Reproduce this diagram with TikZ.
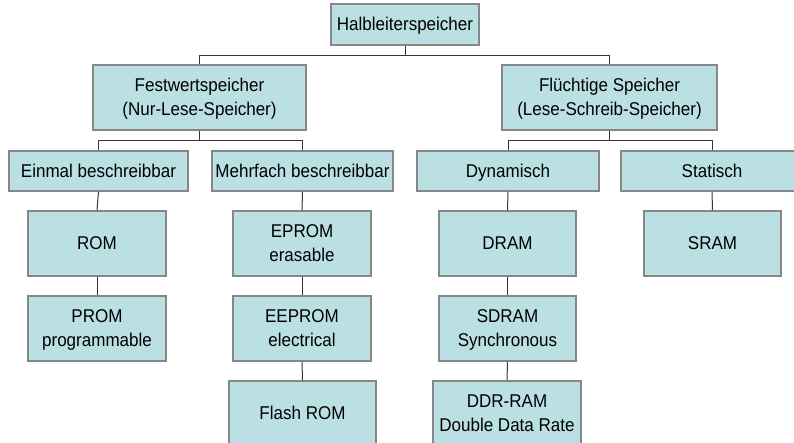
\documentclass[tikz,border=0pt]{standalone}
\usepackage{fontspec}
\setmainfont[FakeStretch=0.92]{Liberation Sans}
\definecolor{boxfill}{RGB}{187,224,228}
\definecolor{boxline}{RGB}{135,135,135}
\definecolor{conn}{RGB}{55,55,55}
\newcommand\lstrut{\rule[-3.85pt]{0pt}{20.15pt}}
\begin{document}
\begin{tikzpicture}[x=1pt,y=-1pt,
  box/.style={draw=boxline,line width=1.2pt,fill=boxfill,align=center,inner sep=0pt,
    font=\fontsize{18.5}{24}\selectfont,text=black},
  conn/.style={draw=conn,line width=1pt}]
\useasboundingbox (0,0) rectangle (794,443);
\fill[white] (0,0) rectangle (794,443);
\clip (0,0) rectangle (794,443);
% level 0
\node[box,minimum width=148pt,minimum height=41pt] (halb) at (405,24.5) {\lstrut Halbleiterspeicher};
% level 1
\node[box,minimum width=213pt,minimum height=65pt] (fest) at (199.5,97.5) {\lstrut Festwertspeicher\\\lstrut(Nur-Lese-Speicher)};
\node[box,minimum width=215pt,minimum height=65pt] (flue) at (609.5,97.5) {\lstrut Flüchtige Speicher\\\lstrut(Lese-Schreib-Speicher)};
% level 2
\node[box,minimum width=179pt,minimum height=40pt] (einmal) at (98.5,171) {\lstrut Einmal beschreibbar};
\node[box,minimum width=181pt,minimum height=40pt] (mehr) at (302.5,171) {\lstrut Mehrfach beschreibbar};
\node[box,minimum width=182pt,minimum height=40pt] (dyn) at (508,171) {\lstrut Dynamisch};
\node[box,minimum width=182pt,minimum height=40pt] (stat) at (712,171) {\lstrut Statisch};
% level 3
\node[box,minimum width=138pt,minimum height=65pt] (rom) at (97,243.5) {\lstrut ROM};
\node[box,minimum width=138pt,minimum height=65pt] (prom) at (97,328.5) {\lstrut PROM\\\lstrut programmable};
\node[box,minimum width=138pt,minimum height=65pt] (eprom) at (302,243.5) {\lstrut EPROM\\\lstrut erasable};
\node[box,minimum width=138pt,minimum height=65pt] (eeprom) at (302,328.5) {\lstrut EEPROM\\\lstrut electrical};
\node[box,minimum width=147pt,minimum height=65pt] (flash) at (302.5,413.5) {\lstrut Flash ROM};
\node[box,minimum width=137pt,minimum height=65pt] (dram) at (507.5,243.5) {\lstrut DRAM};
\node[box,minimum width=137pt,minimum height=65pt] (sdram) at (507.5,328.5) {\lstrut SDRAM\\\lstrut Synchronous};
\node[box,minimum width=148pt,minimum height=65pt] (ddr) at (507,413.5) {\lstrut DDR-RAM\\\lstrut Double Data Rate};
\node[box,minimum width=137pt,minimum height=65pt] (sram) at (712.5,243.5) {\lstrut SRAM};
% connectors
\draw[conn] (halb.south) -- ++(0,10) -| (fest.north);
\draw[conn] (halb.south) -- ++(0,10) -| (flue.north);
\draw[conn] (fest.south) -- ++(0,10) -| (einmal.north);
\draw[conn] (fest.south) -- ++(0,10) -| (mehr.north);
\draw[conn] (flue.south) -- ++(0,10) -| (dyn.north);
\draw[conn] (flue.south) -- ++(0,10) -| (stat.north);
\draw[conn] (einmal.south) -- (rom.north);
\draw[conn] (rom.south) -- (prom.north);
\draw[conn] (mehr.south) -- (eprom.north);
\draw[conn] (eprom.south) -- (eeprom.north);
\draw[conn] (eeprom.south) -- (flash.north);
\draw[conn] (dyn.south) -- (dram.north);
\draw[conn] (dram.south) -- (sdram.north);
\draw[conn] (sdram.south) -- (ddr.north);
\draw[conn] (stat.south) -- (sram.north);
\end{tikzpicture}
\end{document}
